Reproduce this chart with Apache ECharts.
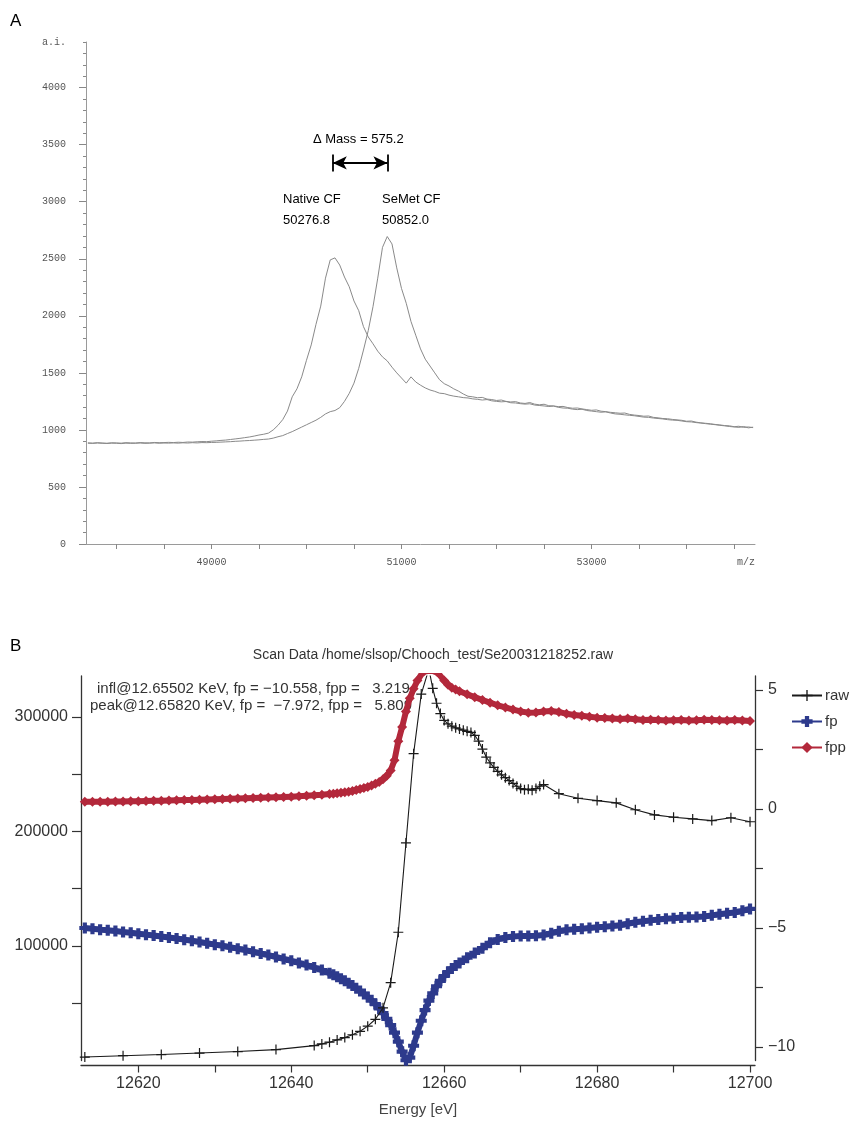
<!DOCTYPE html>
<html><head><meta charset="utf-8">
<script src="https://cdn.jsdelivr.net/npm/echarts@6/dist/echarts.min.js"></script>
<style>html,body{margin:0;padding:0;background:#fff}#c{width:866px;height:1122px}</style>
</head><body><div id="c"></div>
<script>
// ---------- Panel A : mass spectra ----------
const massAxis = [
47700,47750,47800,47850,47900,47950,
48000,48050,48100,48150,48200,48250,48300,48350,48400,48450,
48500,48550,48600,48650,48700,48750,48800,48850,48900,48950,
49000,49050,49100,49150,49200,49250,49300,49350,49400,49450,
49500,49550,49600,49650,49700,49750,49800,49850,49900,49950,
50000,50050,50100,50150,50200,50250,50300,50350,50400,50450,
50500,50550,50600,50650,50700,50750,50800,50850,50900,50950,
51000,51050,51100,51150,51200,51250,51300,51350,51400,51450,
51500,51550,51600,51650,51700,51750,51800,51850,51900,51950,
52000,52050,52100,52150,52200,52250,52300,52350,52400,52450,
52500,52550,52600,52650,52700,52750,52800,52850,52900,52950,
53000,53050,53100,53150,53200,53250,53300,53350,53400,53450,
53500,53550,53600,53650,53700,53750,53800,53850,53900,53950,
54000,54050,54100,54150,54200,54250,54300,54350,54400,54450,
54500,54550,54600,54650,54700];
const nativeCF = [
886,884,888,885,883,887,
886,884,888,886,885,889,887,886,890,888,
889,891,889,892,890,894,893,896,898,897,
901,904,908,911,916,921,926,932,938,946,
955,962,972,1000,1040,1090,1165,1290,1360,1465,
1610,1745,1925,2085,2330,2490,2508,2445,2340,2255,
2130,2045,1905,1815,1755,1690,1640,1605,1550,1500,
1455,1410,1465,1420,1392,1368,1350,1338,1322,1318,
1305,1296,1290,1283,1280,1272,1268,1262,1266,1255,
1250,1246,1249,1238,1236,1230,1226,1229,1218,1214,
1210,1205,1209,1198,1192,1190,1182,1178,1181,1170,
1165,1160,1155,1158,1148,1140,1137,1132,1128,1124,
1118,1112,1110,1104,1100,1096,1090,1086,1084,1078,
1072,1070,1064,1060,1055,1050,1046,1040,1036,1030,
1026,1022,1030,1018,1024];
const semetCF = [
884,882,885,883,881,884,
883,880,884,882,883,885,882,884,886,883,
885,884,886,884,887,885,888,886,889,888,
890,891,893,895,897,900,902,905,907,910,
913,917,920,928,940,950,968,985,1005,1025,
1045,1065,1085,1110,1140,1160,1170,1195,1250,1320,
1410,1540,1700,1870,2080,2330,2600,2695,2630,2420,
2240,2110,1950,1830,1710,1620,1560,1500,1440,1405,
1385,1360,1340,1315,1295,1290,1282,1285,1270,1266,
1258,1262,1250,1245,1248,1236,1232,1240,1226,1220,
1225,1212,1210,1204,1206,1196,1190,1192,1184,1178,
1172,1175,1164,1160,1154,1150,1146,1148,1136,1130,
1126,1120,1122,1110,1106,1100,1098,1092,1088,1084,
1076,1078,1068,1062,1058,1054,1048,1044,1038,1036,
1028,1032,1022,1026,1020];
const massXTicks = [48000,48500,49000,49500,50000,50500,51000,51500,52000,52500,53000,53500,54000,54500];
const massXLabels = [49000,51000,53000];
const massYLabels = [0,500,1000,1500,2000,2500,3000,3500,4000];
const peakNative = 50276.8;
const peakSemet = 50852.0;
const deltaMass = 575.2;

// ---------- Panel B : fluorescence scan ----------
const scanE = [
12613,12614,12615,12616,12617,12618,12619,12620,12621,12622,12623,12624,12625,12626,12627,12628,12629,12630,12631,12632,12633,12634,12635,12636,12637,12638,12639,12640,12641,12642,12643,12644,12645,
12645.5,12646,12646.5,12647,12647.5,12648,12648.5,12649,12649.5,12650,12650.5,12651,12651.5,12652,12652.5,12653,12653.5,12654,12654.5,12655,12655.5,12656,12656.5,12657,12657.5,12658,12658.5,12659,12659.5,12660,12660.5,12661,12661.5,12662,
12663,12664,12665,12666,12667,12668,12669,12670,12671,12672,12673,12674,12675,12676,12677,12678,12679,12680,12681,12682,12683,12684,12685,12686,12687,12688,12689,12690,12691,12692,12693,12694,12695,12696,12697,12698,12699,12700];
const fppVals = [
0.30,0.30,0.31,0.31,0.32,0.32,0.33,0.33,0.34,0.35,0.35,0.36,0.37,0.38,0.38,0.39,0.40,0.41,0.42,0.43,0.44,0.45,0.46,0.47,0.48,0.49,0.50,0.52,0.54,0.56,0.58,0.60,0.63,
0.64,0.66,0.68,0.70,0.73,0.76,0.80,0.84,0.88,0.93,0.99,1.06,1.14,1.25,1.40,1.62,2.05,2.85,3.45,4.10,4.65,5.05,5.40,5.65,5.78,5.81,5.80,5.74,5.60,5.40,5.22,5.10,5.02,4.95,
4.82,4.70,4.58,4.47,4.36,4.27,4.18,4.10,4.05,4.06,4.10,4.12,4.08,4.00,3.95,3.92,3.88,3.84,3.82,3.80,3.78,3.80,3.77,3.74,3.75,3.74,3.72,3.73,3.74,3.72,3.73,3.75,3.74,3.73,3.72,3.74,3.72,3.70];
const fpVals = [
-5.00,-5.03,-5.07,-5.10,-5.13,-5.17,-5.20,-5.24,-5.28,-5.32,-5.36,-5.40,-5.44,-5.49,-5.54,-5.59,-5.64,-5.70,-5.75,-5.81,-5.87,-5.93,-6.00,-6.07,-6.14,-6.22,-6.30,-6.38,-6.47,-6.56,-6.66,-6.77,-6.90,
-6.97,-7.05,-7.13,-7.22,-7.32,-7.42,-7.53,-7.65,-7.77,-7.90,-8.04,-8.20,-8.38,-8.58,-8.82,-9.08,-9.40,-9.78,-10.20,-10.56,-10.45,-9.95,-9.40,-8.90,-8.45,-8.05,-7.75,-7.45,-7.22,-7.02,-6.85,-6.70,-6.58,-6.47,
-6.25,-6.05,-5.85,-5.62,-5.48,-5.40,-5.36,-5.34,-5.34,-5.33,-5.30,-5.22,-5.14,-5.08,-5.05,-5.03,-5.00,-4.97,-4.95,-4.92,-4.89,-4.82,-4.76,-4.72,-4.68,-4.64,-4.61,-4.59,-4.56,-4.55,-4.54,-4.52,-4.47,-4.42,-4.38,-4.35,-4.28,-4.20];
const rawE = [12613,12618,12623,12628,12633,12638,12643,12644,12645,12646,12647,12648,12649,12650,12651,12652,12653,12654,12655,12656,12657,12658,12658.5,12659,12659.5,12660,12660.5,12661,12661.5,12662,12662.5,12663,12663.5,12664,12664.5,12665,12665.5,12666,12666.5,12667,12667.5,12668,12668.5,12669,12669.5,12670,12670.5,12671,12671.5,12672,12672.5,12673,12675,12677.5,12680,12682.5,12685,12687.5,12690,12692.5,12695,12697.5,12700];
const rawVals = [3000,4200,5200,6500,7800,9500,13000,14500,16000,18000,20000,22500,25500,30000,36000,46000,68000,112000,190000,268000,320000,342000,325000,312000,303000,297000,294000,292000,290500,289500,288500,287500,286500,284000,279000,272000,265000,260000,256000,252500,249500,247000,244500,242000,239500,237500,236500,237000,236000,237500,239500,241000,233000,229000,227000,225000,219000,214500,212500,211000,209500,212000,208500];
const eTicks = [12620,12630,12640,12650,12660,12670,12680,12690,12700];
const eLabels = [12620,12640,12660,12680,12700];
const rawTicks = [50000,100000,150000,200000,250000,300000];
const rawLabels = [100000,200000,300000];
const fTicks = [-10,-7.5,-5,-2.5,0,2.5,5];
const fLabels = [-10,-5,0,5];
const scanTitle = 'Scan Data /home/slsop/Chooch_test/Se20031218252.raw';
const inflLine = 'infl@12.65502 KeV, fp = \u221210.558, fpp =   3.219';
const peakLine = 'peak@12.65820 KeV, fp =  \u22127.972, fpp =   5.809';

const zip = (xs, ys) => xs.map((x, i) => [x, ys[i]]);
const plain = v => String(v);
const SANS = '"Liberation Sans", Arial, sans-serif';
const MONO = '"Liberation Mono", "DejaVu Sans Mono", monospace';
const greyAx = '#9a9a9a';
const darkAx = '#333';
const plusThin = 'path://M4.4,0H5.6V4.4H10V5.6H5.6V10H4.4V5.6H0V4.4H4.4Z';
const plusFat = 'path://M3.1,0H6.9V3.1H10V6.9H6.9V10H3.1V6.9H0V3.1H3.1Z';
const arrowY = 3340, barLo = 3265, barHi = 3415;

const chart = echarts.init(document.getElementById('c'));
chart.setOption({
  animation: false,
  backgroundColor: '#fff',
  grid: [
    {left: 86, top: 42, width: 669, height: 502},
    {left: 81, top: 676, width: 674, height: 384.5}
  ],
  xAxis: [
    {gridIndex: 0, type: 'value', min: 47680, max: 54720,
     axisLine: {onZero: false, lineStyle: {color: greyAx, width: 1}},
     axisTick: {customValues: massXTicks, length: 5, lineStyle: {color: '#888'}},
     axisLabel: {customValues: massXLabels, formatter: plain, margin: 13, fontFamily: MONO, fontSize: 10, color: '#555'},
     splitLine: {show: false},
     name: 'm/z', nameLocation: 'end', nameGap: 0,
     nameTextStyle: {fontFamily: MONO, fontSize: 10, color: '#555', align: 'right', verticalAlign: 'top', padding: [13, 0, 0, 0]}},
    {gridIndex: 1, type: 'value', min: 12612.5, max: 12700.65, offset: 5,
     axisLine: {onZero: false, lineStyle: {color: darkAx, width: 1.3}},
     axisTick: {customValues: eTicks, length: 7, lineStyle: {color: darkAx, width: 1.2}},
     axisLabel: {customValues: eLabels, formatter: plain, margin: 10, fontFamily: SANS, fontSize: 16, color: '#333'},
     splitLine: {show: false},
     name: 'Energy [eV]', nameLocation: 'middle', nameGap: 37,
     nameTextStyle: {fontFamily: SANS, fontSize: 15, color: '#444'}}
  ],
  yAxis: [
    {gridIndex: 0, type: 'value', min: 0, max: 4400, interval: 100,
     axisLine: {show: true, onZero: false, lineStyle: {color: greyAx, width: 1}},
     axisTick: {show: true, length: 3, lineStyle: {color: '#888'}},
     axisLabel: {show: false}, splitLine: {show: false}},
    {gridIndex: 0, type: 'value', min: 0, max: 4400, position: 'left',
     axisLine: {show: false},
     axisTick: {show: true, customValues: massYLabels, length: 7, lineStyle: {color: '#888'}},
     axisLabel: {customValues: massYLabels.concat([4400]), margin: 20, fontFamily: MONO, fontSize: 10, color: '#555',
                 formatter: v => (v >= 4400 ? 'a.i.' : String(v))},
     splitLine: {show: false}},
    {gridIndex: 1, type: 'value', min: 0, max: 335800, position: 'left',
     axisLine: {show: true, onZero: false, lineStyle: {color: darkAx, width: 1.3}},
     axisTick: {show: true, customValues: rawTicks, length: 9, lineStyle: {color: darkAx, width: 1.2}},
     axisLabel: {customValues: rawLabels, formatter: plain, margin: 13, fontFamily: SANS, fontSize: 16, color: '#333'},
     splitLine: {show: false}},
    {gridIndex: 1, type: 'value', min: -10.57, max: 5.59, position: 'right',
     axisLine: {show: true, onZero: false, lineStyle: {color: darkAx, width: 1.3}},
     axisTick: {show: true, customValues: fTicks, length: 8, lineStyle: {color: darkAx, width: 1.2}},
     axisLabel: {customValues: fLabels, margin: 13, fontFamily: SANS, fontSize: 16, color: '#333',
                 formatter: v => (v < 0 ? '\u2212' + Math.abs(v) : String(v))},
     splitLine: {show: false}}
  ],
  legend: {
    data: ['raw', 'fp', 'fpp'], orient: 'vertical', left: 786, top: 683,
    itemWidth: 30, itemHeight: 14, itemGap: 11,
    textStyle: {fontFamily: SANS, fontSize: 15, color: '#333', padding: [0, 0, 0, -2]}, selectedMode: false
  },
  graphic: [
    {type: 'text', left: 10, top: 13, style: {text: 'A', font: '17px ' + SANS, fill: '#000'}},
    {type: 'text', left: 10, top: 638, style: {text: 'B', font: '17px ' + SANS, fill: '#000'}},
    {type: 'text', left: 313, top: 133, style: {text: '\u0394 Mass = ' + deltaMass.toFixed(1), font: '13px ' + SANS, fill: '#000'}},
    {type: 'text', left: 283, top: 193, style: {text: 'Native CF', font: '13px ' + SANS, fill: '#000'}},
    {type: 'text', left: 283, top: 214, style: {text: peakNative.toFixed(1), font: '13px ' + SANS, fill: '#000'}},
    {type: 'text', left: 382, top: 193, style: {text: 'SeMet CF', font: '13px ' + SANS, fill: '#000'}},
    {type: 'text', left: 382, top: 214, style: {text: peakSemet.toFixed(1), font: '13px ' + SANS, fill: '#000'}},
    {type: 'text', x: 433, y: 655, z: 1, style: {text: scanTitle, font: '14px ' + SANS, fill: '#333', align: 'center', verticalAlign: 'middle'}},
    {type: 'text', x: 97, y: 689, z: 1, style: {text: inflLine, font: '15px ' + SANS, fill: '#333', align: 'left', verticalAlign: 'middle'}},
    {type: 'text', x: 90, y: 706, z: 1, style: {text: peakLine, font: '15px ' + SANS, fill: '#333', align: 'left', verticalAlign: 'middle'}}
  ],
  series: [
    {name: 'Native CF', type: 'line', xAxisIndex: 0, yAxisIndex: 0, data: zip(massAxis, nativeCF),
     showSymbol: false, silent: true, lineStyle: {color: '#8a8a8a', width: 1},
     markLine: {silent: true, animation: false, symbol: ['arrow', 'arrow'], symbolSize: [10, 14],
       label: {show: false}, lineStyle: {color: '#000', width: 1.8, type: 'solid'},
       data: [
         [{coord: [peakNative, arrowY]}, {coord: [peakSemet, arrowY]}],
         [{coord: [peakNative, barLo], symbol: 'none'}, {coord: [peakNative, barHi], symbol: 'none'}],
         [{coord: [peakSemet, barLo], symbol: 'none'}, {coord: [peakSemet, barHi], symbol: 'none'}]
       ]}},
    {name: 'SeMet CF', type: 'line', xAxisIndex: 0, yAxisIndex: 0, data: zip(massAxis, semetCF),
     showSymbol: false, silent: true, lineStyle: {color: '#8a8a8a', width: 1}},
    {name: 'fpp', type: 'line', xAxisIndex: 1, yAxisIndex: 3, data: zip(scanE, fppVals), z: 2,
     symbol: 'diamond', symbolSize: 10, showAllSymbol: true, silent: true,
     itemStyle: {color: '#b3283b'}, lineStyle: {color: '#b3283b', width: 6}},
    {name: 'fp', type: 'line', xAxisIndex: 1, yAxisIndex: 3, data: zip(scanE, fpVals), z: 3,
     symbol: plusFat, symbolSize: 11, showAllSymbol: true, silent: true,
     itemStyle: {color: '#2d3a8c'}, lineStyle: {color: '#2d3a8c', width: 6}},
    {name: 'raw', type: 'line', xAxisIndex: 1, yAxisIndex: 2, data: zip(rawE, rawVals), z: 4,
     symbol: plusThin, symbolSize: 10, showAllSymbol: true, silent: true,
     itemStyle: {color: '#1a1a1a'}, lineStyle: {color: '#1a1a1a', width: 1.1}}
  ]
});
</script></body></html>
